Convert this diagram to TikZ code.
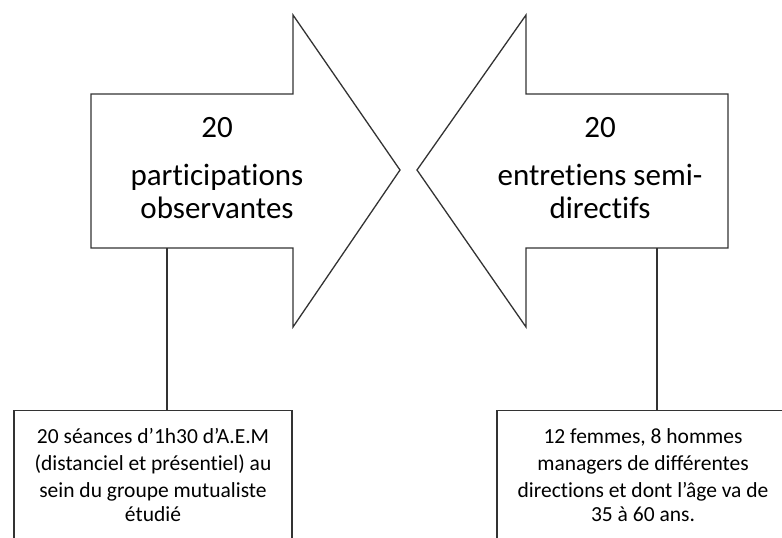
\documentclass[tikz,border=0pt]{standalone}
\usepackage{fontspec}
\setmainfont[Ligatures=NoCommon]{Carlito}
\begin{document}
\begin{tikzpicture}[x=1pt,y=-1pt,
  shapeline/.style={draw=black!80,line width=1.3pt,line join=miter},
  bigtext/.style={inner sep=0pt,anchor=base,font=\fontsize{31}{36}\selectfont},
  smalltext/.style={inner sep=0pt,anchor=base,font=\fontsize{21.5}{27}\selectfont},
  link/.style={draw=black!80,line width=1.3pt}]
\useasboundingbox (0,0) rectangle (782,538);
\clip (0,0) rectangle (782,538);
% left arrow
\draw[shapeline] (91,94) -- (293,94) -- (293,15) -- (400,170) -- (293,327) -- (293,248) -- (91,248) -- cycle;
% right arrow
\draw[shapeline] (728,94) -- (526,94) -- (526,15) -- (417,170) -- (526,327) -- (526,248) -- (728,248) -- cycle;
\coordinate (la) at (167,248);
\coordinate (ra) at (657,248);
\node[bigtext] (l20) at (217,137) {20};
\node[bigtext] (l1) at (217,185) {participations};
\node[bigtext] (l2) at (217,218) {observantes};
\node[bigtext] (r20) at (600,137) {20};
\node[bigtext] (r1) at (600,185) {entretiens semi-};
\node[bigtext] (r2) at (600,218) {directifs};
% boxes
\node[shapeline,minimum width=278pt,minimum height=160pt,anchor=north,inner sep=0pt] (lbox) at (153,410) {};
\node[shapeline,minimum width=292pt,minimum height=160pt,anchor=north,inner sep=0pt] (rbox) at (643,410) {};
\draw[link] (la) -- (la |- lbox.north);
\draw[link] (ra) -- (ra |- rbox.north);
\node[smalltext] (lt1) at (153,443) {20 séances d’1h30 d’A.E.M};
\node[smalltext] (lt2) at (153,470) {(distanciel et présentiel) au};
\node[smalltext] (lt3) at (153,497) {sein du groupe mutualiste};
\node[smalltext] (lt4) at (153,521) {étudié};
\node[smalltext] (rt1) at (643,443) {12 femmes, 8 hommes};
\node[smalltext] (rt2) at (643,470) {managers de différentes};
\node[smalltext] (rt3) at (643,497) {directions et dont l’âge va de};
\node[smalltext] (rt4) at (643,521) {35 à 60 ans.};
\end{tikzpicture}
\end{document}
